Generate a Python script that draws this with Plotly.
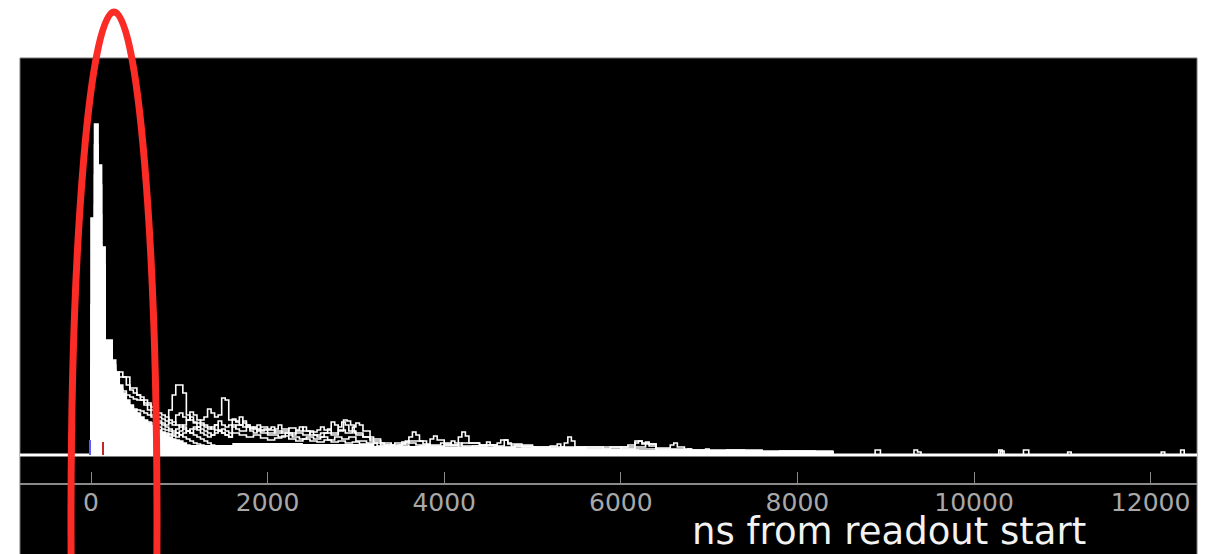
import plotly.graph_objects as go

# ---------------- data (ns from readout start, amplitude in arbitrary units) ----------------
BIN_NS = 40
X_MIN, X_MAX = -804, 12525
tick_vals = [0, 2000, 4000, 6000, 8000, 10000, 12000]
tick_text = ["0", "2000", "4000", "6000", "8000", "10000", "12000"]

# early part of each waveform: one value per 40 ns bin starting at t = 0
w1_early = [237, 331, 290, 208, 115, 115, 95, 83, 70, 62, 55, 50, 45, 42, 38, 35, 32, 30, 28, 25,
            22, 20, 18, 16, 15, 14, 12, 10, 9, 8, 7, 6, 5, 5, 4, 4, 3, 3, 2, 2]
w2_early = [150, 310, 270, 190, 110, 105, 90, 83, 83, 78, 70, 65, 62, 60, 55, 50, 45, 40, 36, 32,
            30, 28, 26, 24, 22, 20, 18, 16, 14, 12, 11, 10, 9, 8, 7, 6, 5, 4, 3, 2]
w3_early = [90, 280, 240, 160, 100, 95, 85, 80, 78, 78, 78, 67, 67, 60, 58, 55, 52, 48, 45, 42,
            40, 38, 35, 33, 30, 28, 26, 24, 22, 20, 18, 16, 14, 12, 10, 9, 8, 7, 6, 5]
w4_early = [60, 250, 210, 140, 90, 80, 72, 70, 66, 64, 60, 58, 56, 55, 55, 52, 50, 45, 40, 38,
            36, 34, 32, 30, 40, 42, 38, 35, 43, 40, 35, 32, 30, 28, 26, 25, 24, 22, 20, 18]
w5_early = [40, 220, 190, 120, 80, 72, 65, 60, 55, 52, 50, 48, 46, 45, 44, 42, 40, 38, 36, 34,
            32, 30, 45, 60, 70, 70, 62, 40, 35, 33, 32, 30, 28, 26, 28, 30, 25, 22, 20, 18]
w6_early = [30, 180, 160, 100, 70, 62, 56, 50, 46, 44, 42, 40, 38, 36, 35, 34, 33, 32, 30, 28,
            26, 25, 24, 22, 26, 30, 28, 24, 22, 26, 28, 35, 38, 46, 42, 38, 40, 57, 55, 35]
w7_early = [20, 140, 130, 90, 60, 55, 50, 46, 42, 40, 38, 36, 34, 32, 30, 28, 27, 26, 25, 24,
            23, 22, 21, 20, 22, 24, 30, 35, 38, 32, 28, 26, 24, 22, 20, 30, 34, 30, 28, 30]
w8_early = [15, 100, 90, 70, 50, 45, 40, 38, 36, 34, 32, 30, 29, 28, 27, 26, 25, 24, 23, 22,
            22, 21, 20, 19, 18, 20, 22, 24, 26, 28, 25, 22, 20, 18, 20, 22, 24, 26, 24, 22]

# later part of each waveform: (time ns, value) change points
w1_late = [(1600, 0)]
w2_late = [(1600, 0)]
w3_late = [(1600, 3), (1760, 0)]
w4_late = [(1600, 36), (1640, 34), (1680, 38), (1720, 32), (1760, 28), (1840, 26), (1920, 28), (2000, 25),
           (2080, 22), (2160, 24), (2240, 27), (2320, 25), (2360, 28), (2400, 24), (2480, 20), (2560, 18),
           (2640, 22), (2720, 20), (2800, 24), (2860, 35), (2900, 34), (2940, 30), (2980, 22), (3080, 18),
           (3200, 12), (3320, 10), (3440, 12), (3600, 14), (3760, 11), (3840, 16), (3880, 19), (3920, 15),
           (4000, 10), (4200, 12), (4400, 10), (4600, 12), (4640, 15), (4720, 11), (4880, 8), (5200, 7),
           (5600, 8), (6080, 10), (6160, 14), (6240, 11), (6400, 6), (6800, 5), (7400, 4), (8000, 3),
           (8400, 0), (9280, 0), (9320, 5), (9360, 3), (9400, 0), (10560, 5), (10620, 0)]
w5_late = [(1600, 30), (1640, 26), (1680, 24), (1760, 30), (1800, 26), (1840, 28), (1880, 30), (1920, 25),
           (2000, 22), (2080, 26), (2120, 30), (2160, 26), (2240, 22), (2320, 24), (2400, 28), (2440, 24),
           (2520, 20), (2600, 22), (2680, 26), (2720, 33), (2760, 30), (2800, 25), (2880, 22), (2960, 28),
           (3000, 32), (3040, 30), (3080, 24), (3160, 16), (3280, 12), (3400, 10), (3520, 13), (3600, 18),
           (3640, 23), (3680, 20), (3720, 14), (3800, 10), (3960, 12), (4080, 10), (4160, 18), (4200, 23),
           (4240, 19), (4280, 12), (4400, 9), (4480, 13), (4520, 10), (4600, 8), (4800, 10), (5000, 8),
           (5360, 12), (5400, 18), (5440, 14), (5480, 8), (5800, 6), (6000, 8), (6280, 13), (6320, 11),
           (6400, 7), (6560, 10), (6600, 12), (6640, 8), (6720, 5), (6760, 6), (6800, 4), (7200, 5),
           (7600, 3), (8400, 0), (8860, 0), (8880, 5), (8940, 0), (10260, 0), (10280, 5), (10320, 0),
           (12320, 0), (12340, 5), (12380, 0)]
w6_late = [(1600, 35), (1640, 33), (1680, 30), (1720, 34), (1760, 30), (1800, 27), (1880, 24), (1960, 26),
           (2040, 28), (2080, 24), (2160, 22), (2240, 20), (2320, 22), (2400, 20), (2480, 23), (2560, 25),
           (2600, 28), (2640, 25), (2720, 22), (2800, 28), (2840, 33), (2880, 30), (2920, 24), (3000, 20),
           (3080, 18), (3160, 14), (3280, 10), (3400, 9), (3520, 11), (3560, 14), (3600, 12), (3680, 10),
           (3840, 9), (4000, 11), (4080, 14), (4120, 12), (4200, 9), (4400, 10), (4560, 9), (4680, 15),
           (4720, 12), (4760, 9), (5000, 7), (5200, 9), (5280, 11), (5320, 8), (5600, 6), (5880, 8),
           (6000, 6), (6160, 12), (6200, 14), (6240, 12), (6320, 9), (6400, 5), (6960, 6), (7000, 4),
           (7600, 3), (8000, 4), (8200, 2), (8400, 0), (10280, 0), (10300, 4), (10340, 0)]
w7_late = [(1600, 28), (1640, 30), (1720, 28), (1800, 24), (1840, 22), (1880, 25), (1920, 22), (2000, 20),
           (2120, 18), (2200, 22), (2280, 18), (2360, 16), (2440, 18), (2520, 16), (2600, 18), (2680, 15),
           (2760, 18), (2840, 16), (2920, 18), (3000, 14), (3120, 12), (3240, 9), (3360, 8), (3480, 10),
           (3600, 8), (3720, 9), (3840, 8), (4000, 9), (4160, 8), (4320, 9), (4480, 8), (4640, 7),
           (4800, 8), (5040, 6), (5320, 7), (5600, 5), (6000, 6), (6400, 5), (6800, 4), (7200, 3),
           (7800, 4), (8400, 0), (11040, 0), (11060, 3), (11100, 0)]
w8_late = [(1600, 22), (1680, 20), (1760, 18), (1840, 20), (1920, 17), (2000, 15), (2080, 17), (2160, 19),
           (2240, 16), (2320, 14), (2400, 16), (2480, 14), (2560, 13), (2640, 15), (2720, 13), (2800, 14),
           (2880, 12), (2960, 13), (3040, 11), (3200, 8), (3360, 7), (3520, 8), (3680, 7), (3840, 6),
           (4000, 7), (4200, 6), (4400, 7), (4600, 6), (4800, 6), (5000, 5), (5400, 6), (5800, 5),
           (6200, 4), (6800, 4), (7400, 3), (8000, 3), (8400, 0), (12100, 0), (12120, 3), (12160, 0)]

# densely overlapped region near the baseline (appears solid white)
floor_pts = [(X_MIN, 0), (0, 8), (400, 10), (1000, 10), (1600, 12), (2400, 11), (3200, 9), (4000, 8),
             (4800, 7), (5600, 5), (6400, 4), (7200, 4), (8400, 0), (X_MAX, 0)]

# trigger markers
blue_mark_t, blue_mark_h = -11, 15
red_mark_t, red_mark_h = 136, 13

waveforms = [
    (w1_early, w1_late), (w2_early, w2_late), (w3_early, w3_late), (w4_early, w4_late),
    (w5_early, w5_late), (w6_early, w6_late), (w7_early, w7_late), (w8_early, w8_late),
]

# ---------------- figure ----------------
W, H = 1205, 554
ML, MR, MT, MB = 20, 8, 58, 71
PLOT_W = W - ML - MR
PLOT_H = H - MT - MB


def px_to_paper_x(px):
    return (px - ML) / PLOT_W


def px_to_paper_y(py):
    return (H - MB - py) / PLOT_H


fig = go.Figure()

fx = [p[0] for p in floor_pts]
fy = [p[1] for p in floor_pts]
fig.add_trace(go.Scatter(x=fx, y=fy, mode="lines", line=dict(color="white", width=0, shape="hv"),
                         fill="tozeroy", fillcolor="white", hoverinfo="skip", showlegend=False))

for idx, (early, late) in enumerate(waveforms):
    xs = [X_MIN] + [BIN_NS * i for i in range(len(early))] + [p[0] for p in late] + [X_MAX]
    ys = [0] + list(early) + [p[1] for p in late] + [0]
    kw = {}
    if idx == 0:
        kw = dict(fill="tozeroy", fillcolor="white")
    fig.add_trace(go.Scatter(x=xs, y=ys, mode="lines",
                             line=dict(color="white", width=1.6, shape="hv"),
                             hoverinfo="skip", showlegend=False, **kw))

# baseline
fig.add_trace(go.Scatter(x=[X_MIN, X_MAX], y=[0, 0], mode="lines",
                         line=dict(color="white", width=3), hoverinfo="skip", showlegend=False))

fig.add_trace(go.Scatter(x=[blue_mark_t, blue_mark_t], y=[0, blue_mark_h], mode="lines",
                         line=dict(color="#5a5aff", width=2), hoverinfo="skip", showlegend=False))
fig.add_trace(go.Scatter(x=[red_mark_t, red_mark_t], y=[0, red_mark_h], mode="lines",
                         line=dict(color="#c02828", width=2), hoverinfo="skip", showlegend=False))

# black panel extending below the axis
fig.add_shape(type="rect", xref="paper", yref="paper", x0=0, x1=1,
              y0=px_to_paper_y(H + 5), y1=1, fillcolor="black",
              line=dict(color="#777777", width=1), layer="below")

# red ellipse annotation
cx, cy, a, b = 114, 520, 43, 508
fig.add_shape(type="circle", xref="paper", yref="paper",
              x0=px_to_paper_x(cx - a), x1=px_to_paper_x(cx + a),
              y0=px_to_paper_y(cy + b), y1=px_to_paper_y(cy - b),
              line=dict(color="#fb2b25", width=7), layer="above")

fig.add_annotation(text="ns from readout start", xref="paper", yref="paper",
                   x=px_to_paper_x(889), y=px_to_paper_y(531), xanchor="center", yanchor="middle",
                   showarrow=False, font=dict(family="DejaVu Sans", size=37, color="#f2f2f2"))

fig.update_layout(
    width=W, height=H,
    margin=dict(l=ML, r=MR, t=MT, b=MB),
    paper_bgcolor="white", plot_bgcolor="black",
    showlegend=False,
    xaxis=dict(range=[X_MIN, X_MAX], tickvals=tick_vals, ticktext=tick_text,
               ticks="inside", ticklen=11, tickwidth=1, tickcolor="#8a8a8a",
               showline=True, linecolor="#8a8a8a", linewidth=2,
               showgrid=False, zeroline=False, ticklabelstandoff=-4,
               tickfont=dict(family="DejaVu Sans", size=25, color="#a8a8a8")),
    yaxis=dict(range=[-28, 397], visible=False, showgrid=False, zeroline=False),
)

fig.write_html("out.html")
